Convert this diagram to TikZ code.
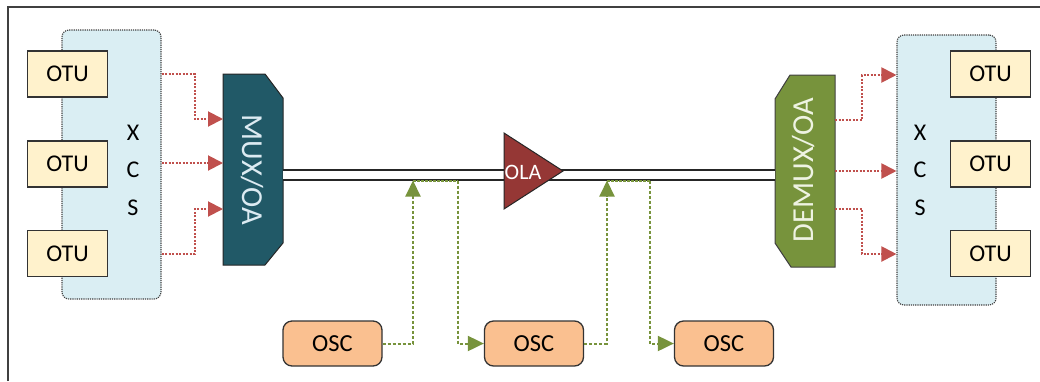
\documentclass[tikz,border=0pt]{standalone}
\usepackage{fontspec}
\setmainfont{Carlito}
\usetikzlibrary{arrows.meta}
\definecolor{xcsblue}{HTML}{DAEEF3}
\definecolor{otufill}{HTML}{FFF2CC}
\definecolor{oscfill}{HTML}{FAC090}
\definecolor{muxfill}{HTML}{215967}
\definecolor{demuxfill}{HTML}{77933C}
\definecolor{olafill}{HTML}{953735}
\definecolor{arrred}{HTML}{C0504D}
\definecolor{arrgreen}{HTML}{77933C}
\definecolor{muxtext}{HTML}{DCEBF2}
\definecolor{demuxtext}{HTML}{EEF3E2}
\begin{document}
\begin{tikzpicture}[x=1pt,y=-1pt,
  otubox/.style={draw=black!80,line width=1.3pt,fill=otufill,minimum width=80pt,minimum height=46pt,inner sep=0pt,font=\fontsize{24}{26}\selectfont},
  xcsbox/.style={draw=black!75,dash pattern=on 1.2pt off 1pt,line width=1.1pt,fill=xcsblue,rounded corners=7pt,inner sep=0pt},
  xcsletter/.style={anchor=base,inner sep=0pt,font=\fontsize{24}{26}\selectfont},
  oscbox/.style={draw=black!80,line width=1.3pt,fill=oscfill,rounded corners=9pt,minimum width=99pt,minimum height=45pt,inner sep=0pt,font=\fontsize{24.5}{26}\selectfont},
  holder/.style={inner sep=0pt,outer sep=0pt},
  redarr/.style={draw=arrred,line width=2pt,dash pattern=on 2pt off 1.5pt,-{Triangle[length=15pt,width=15pt]}},
  greenarr/.style={draw=arrgreen,line width=2pt,dash pattern=on 3pt off 2pt,-{Triangle[length=16pt,width=15pt]}},
  greenline/.style={draw=arrgreen,line width=2pt,dash pattern=on 2.5pt off 1.5pt},
  fiber/.style={draw=black!85,line width=1.8pt,double=white,double distance=8.2pt},
  bigtext/.style={inner sep=0pt,font=\fontsize{30.5}{32}\selectfont}
]
\useasboundingbox (0,0) rectangle (1040,381);
% frame
\draw[black!75,line width=1.3pt] (8,381) -- (8,7) -- (1040,7);

% left XCS
\node[xcsbox,minimum width=99pt,minimum height=269pt] (xcsL) at (111.5,164.5) {};
\node[otubox] (otuL1) at (67.5,74) {OTU};
\node[otubox] (otuL2) at (67.5,164) {OTU};
\node[otubox] (otuL3) at (67.5,253.5) {OTU};
\node[xcsletter] (xL) at (133,140) {X};
\node[xcsletter] (cL) at (133,177.5) {C};
\node[xcsletter] (sL) at (133,215) {S};

% right XCS
\node[xcsbox,minimum width=99pt,minimum height=270pt] (xcsR) at (946.5,170) {};
\node[otubox] (otuR1) at (990.5,74) {OTU};
\node[otubox] (otuR2) at (990.5,164) {OTU};
\node[otubox] (otuR3) at (990.5,253.5) {OTU};
\node[xcsletter] (xR) at (920,140) {X};
\node[xcsletter] (cR) at (920,177.5) {C};
\node[xcsletter] (sR) at (920,215) {S};

% MUX
\node[holder,minimum width=60pt,minimum height=191pt] (mux) at (253,169.5) {};
\filldraw[fill=muxfill,draw=black!85,line width=1pt] (223,74) -- (265,74) -- (283,98) -- (283,243) -- (265,265) -- (223,265) -- cycle;
\node[bigtext,rotate=-90,text=muxtext] (muxlabel) at (252,170) {MUX/OA};

% DEMUX
\node[holder,minimum width=60pt,minimum height=192pt] (demux) at (805,171) {};
\filldraw[fill=demuxfill,draw=black!75,line width=1pt] (790,75) -- (835,75) -- (835,267) -- (791,267) -- (775,243) -- (775,99) -- cycle;
\node[bigtext,rotate=90,text=demuxtext] (demuxlabel) at (804,170) {DEMUX/OA};

% fiber
\coordinate (fibL) at (283,175);
\coordinate (fibR) at (775,175);
\draw[fiber] (fibL) -- (fibR);

% OLA
\filldraw[fill=olafill,draw=black!85,line width=1pt] (504,133) -- (563,171) -- (504,209) -- cycle;
\node[inner sep=0pt,text=white,font=\fontsize{22}{24}\selectfont] (ola) at (523,172) {OLA};

% red arrows left
\draw[redarr] (xcsL.east |- 0,74) -- (195,74) -- (195,119) -- (mux.west |- 0,119);
\draw[redarr] (xcsL.east |- 0,163) -- (mux.west |- 0,163);
\draw[redarr] (xcsL.east |- 0,254) -- (195,254) -- (195,209) -- (mux.west |- 0,209);

% red arrows right
\draw[redarr] (demux.east |- 0,120) -- (862,120) -- (862,75) -- (xcsR.west |- 0,75);
\draw[redarr] (demux.east |- 0,171) -- (xcsR.west |- 0,171);
\draw[redarr] (demux.east |- 0,209) -- (862,209) -- (862,254) -- (xcsR.west |- 0,254);

% OSC
\node[oscbox] (osc1) at (332.5,343.5) {OSC};
\node[oscbox] (osc2) at (534,343.5) {OSC};
\node[oscbox] (osc3) at (724,343.5) {OSC};

% green taps
\coordinate (tap1) at (413,180.5);
\coordinate (tap1b) at (458,180.5);
\coordinate (tap2) at (607,180.5);
\coordinate (tap2b) at (650,180.5);
\draw[greenarr] (osc1.east) -| (tap1);
\draw[greenline] (tap1) -- (tap1b);
\draw[greenarr] (tap1b) |- (osc2.west);
\draw[greenarr] (osc2.east) -| (tap2);
\draw[greenline] (tap2) -- (tap2b);
\draw[greenarr] (tap2b) |- (osc3.west);
\end{tikzpicture}
\end{document}
